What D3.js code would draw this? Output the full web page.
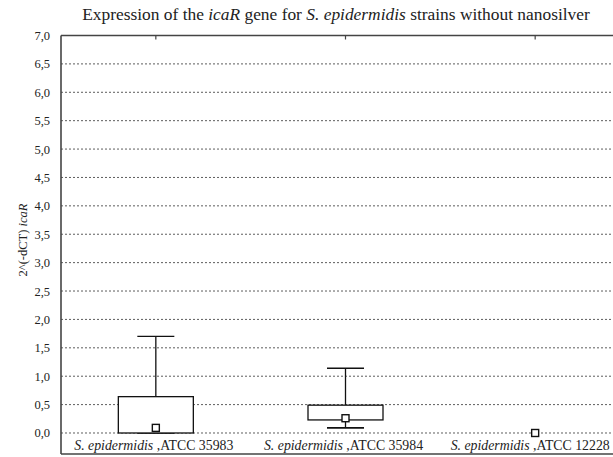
<!DOCTYPE html>
<html><head><meta charset="utf-8">
<script src="https://cdn.jsdelivr.net/npm/d3@7"></script>
<style>
html,body{margin:0;padding:0;background:#fff;}
svg{display:block;}
</style></head><body>
<svg id="chart" width="613" height="457"></svg>
<script>
const categories = ["ATCC 35983", "ATCC 35984", "ATCC 12228"];
const whiskerHigh = [1.70, 1.14, 0.0];
const boxHigh = [0.64, 0.49, 0.0];
const boxLow = [0.0, 0.23, 0.0];
const whiskerLow = [0.0, 0.09, 0.0];
const median = [0.09, 0.26, 0.0];
const yTicks = [0, 0.5, 1, 1.5, 2, 2.5, 3, 3.5, 4, 4.5, 5, 5.5, 6, 6.5, 7];

const FONT = "'Liberation Serif', 'DejaVu Serif', serif";
const svg = d3.select("#chart").style("font-family", FONT);
const mLeft = 61, mRight = 630, mTop = 35.5, mBottom = 454;
const x = d3.scaleBand().domain(categories).range([mLeft, mRight]).padding(0);
const y = d3.scaleLinear().domain([-0.37, 7]).range([mBottom, mTop]);
const fmt = v => d3.format(".1f")(v).replace(".", ",");

// grid lines
svg.append("g").selectAll("line").data(yTicks.filter(t => t < 7)).join("line")
  .attr("x1", mLeft).attr("x2", 613)
  .attr("y1", d => y(d)).attr("y2", d => y(d))
  .attr("stroke", "#333").attr("stroke-width", 0.8).attr("stroke-dasharray", "2,2");

// left axis with labels
const yAxis = d3.axisLeft(y).tickValues(yTicks).tickFormat(fmt).tickSize(0).tickPadding(11);
const ga = svg.append("g").attr("transform", `translate(${mLeft},0)`).call(yAxis);
ga.attr("font-family", null).attr("font-size", null);
ga.select(".domain").remove();
ga.selectAll("text").style("font-family", FONT).style("font-size", "12.5px").attr("fill", "#222");

// frame: left, top, bottom
svg.append("line").attr("x1", mLeft).attr("x2", mLeft).attr("y1", mTop).attr("y2", mBottom)
  .attr("stroke", "#444").attr("stroke-width", 1.6);
svg.append("line").attr("x1", mLeft).attr("x2", 613).attr("y1", mTop).attr("y2", mTop)
  .attr("stroke", "#444").attr("stroke-width", 1.6);
svg.append("line").attr("x1", mLeft).attr("x2", 613).attr("y1", mBottom).attr("y2", mBottom)
  .attr("stroke", "#444").attr("stroke-width", 1.6);
// top ticks
const xTop = d3.axisTop(x).tickSize(-4).tickFormat("");
const gt = svg.append("g").attr("transform", `translate(0,${mTop})`).call(xTop);
gt.select(".domain").remove();
gt.selectAll("line").attr("stroke", "#444").attr("stroke-width", 1.2);

// boxes
const boxW = 75, capW = 37;
categories.forEach((c, i) => {
  const cx = x(c) + x.bandwidth() / 2;
  const g = svg.append("g");
  if (whiskerHigh[i] > boxHigh[i]) {
    g.append("line").attr("x1", cx).attr("x2", cx).attr("y1", y(boxHigh[i])).attr("y2", y(whiskerHigh[i]))
      .attr("stroke", "#111").attr("stroke-width", 1.3);
    g.append("line").attr("x1", cx - capW / 2).attr("x2", cx + capW / 2).attr("y1", y(whiskerHigh[i])).attr("y2", y(whiskerHigh[i]))
      .attr("stroke", "#111").attr("stroke-width", 1.3);
  }
  if (boxHigh[i] > boxLow[i]) {
    g.append("line").attr("x1", cx).attr("x2", cx).attr("y1", y(boxLow[i])).attr("y2", y(whiskerLow[i]))
      .attr("stroke", "#111").attr("stroke-width", 1.3);
    g.append("line").attr("x1", cx - capW / 2).attr("x2", cx + capW / 2).attr("y1", y(whiskerLow[i])).attr("y2", y(whiskerLow[i]))
      .attr("stroke", "#111").attr("stroke-width", 1.6);
    g.append("rect").attr("x", cx - boxW / 2).attr("width", boxW)
      .attr("y", y(boxHigh[i])).attr("height", y(boxLow[i]) - y(boxHigh[i]))
      .attr("fill", "#fff").attr("stroke", "#111").attr("stroke-width", 1.3);
  }
  g.append("rect").attr("x", cx - 3.5).attr("y", y(median[i]) - 3.5).attr("width", 7).attr("height", 7)
    .attr("fill", "#fff").attr("stroke", "#111").attr("stroke-width", 1.4);
});

// x labels
categories.forEach((c, i) => {
  const cx = x(c) + x.bandwidth() / 2 - (i === 2 ? 5 : 2);
  const t = svg.append("text").attr("x", cx).attr("y", 450).attr("text-anchor", "middle")
    .style("font-family", FONT).style("font-size", "13.8px").attr("fill", "#222");
  t.append("tspan").style("font-style", "italic").text("S. epidermidis");
  t.append("tspan").text(" ," + c);
});

// y label
const yl = svg.append("text").attr("transform", "translate(27,240) rotate(-90)")
  .attr("text-anchor", "middle").style("font-family", FONT).style("font-size", "12.5px").attr("fill", "#222");
yl.append("tspan").text("2^(-dCT) ");
yl.append("tspan").style("font-style", "italic").text("icaR");

// title
const title = svg.append("text").attr("x", 336).attr("y", 20).attr("text-anchor", "middle")
  .style("font-family", FONT).style("font-size", "17.4px").attr("fill", "#222");
title.append("tspan").text("Expression of the ");
title.append("tspan").style("font-style", "italic").text("icaR");
title.append("tspan").text(" gene for ");
title.append("tspan").style("font-style", "italic").text("S. epidermidis");
title.append("tspan").text("  strains without nanosilver");
</script>
</body></html>
